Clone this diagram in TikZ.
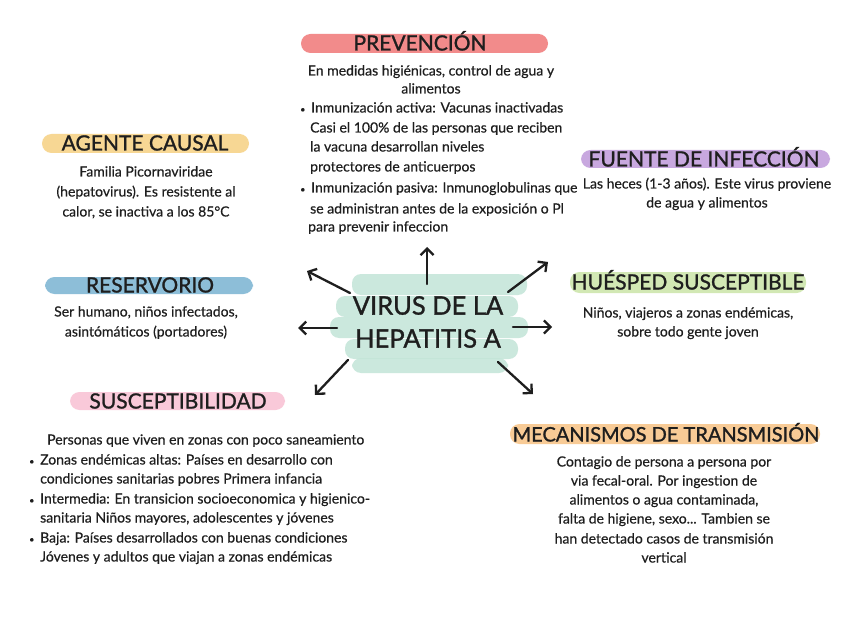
\documentclass[tikz,border=0pt]{standalone}
\usepackage{fontspec}
\setmainfont{Lato}[FakeBold=0.5]
\newfontfamily\hdrfont[FakeBold=1.2]{Lato}
\usetikzlibrary{arrows.meta}
\definecolor{cPrev}{HTML}{F28B8B}
\definecolor{cAgen}{HTML}{F7D794}
\definecolor{cFuen}{HTML}{C8A8DF}
\definecolor{cRes}{HTML}{8DBED8}
\definecolor{cHue}{HTML}{D2E8B4}
\definecolor{cSus}{HTML}{F9C9D9}
\definecolor{cMec}{HTML}{F8CB96}
\definecolor{cMint}{HTML}{C3E5D8}
\definecolor{ink}{HTML}{1E1E1E}
\newcommand{\bul}{\makebox[11pt][l]{\small•}}
\begin{document}
\begin{tikzpicture}[x=1pt,y=-1pt,
  hdr/.style={font=\hdrfont\fontsize{21}{21}\selectfont, text=ink, inner sep=0pt, text height=15pt, text depth=0pt},
  core/.style={font=\hdrfont\fontsize{25.5}{33}\selectfont, text=ink, inner sep=0pt, align=center},
  body/.style={font=\fontsize{14}{15}\selectfont, text=ink, inner sep=0pt, text height=10pt, text depth=3pt},
  bodyl/.style={body, anchor=west},
  pill/.style={rounded corners=9.5pt},
  stroke/.style={fill=cMint, opacity=.85, rounded corners=9pt},
  arr/.style={draw=ink, line width=2.3pt, line cap=round, -{Straight Barb[length=6.5pt,width=13pt]}}]
\fill[white] (0,0) rectangle (848,636);
\useasboundingbox (0,0) rectangle (848,636);

% highlight pills
\fill[cPrev,pill] (301,34) rectangle (548,53);
\fill[cAgen,pill] (42,134) rectangle (249,153);
\fill[cFuen,pill] (581,150) rectangle (830,168);
\fill[cRes,pill] (45,277) rectangle (253,294);
\fill[cHue,pill] (570,272) rectangle (806,293);
\fill[cSus,pill] (70,392) rectangle (285,410);
\fill[cMec,pill] (510,424) rectangle (820,444);

% centre brush strokes
\fill[stroke] (352,274) rectangle (527,295);
\fill[stroke] (336,296) rectangle (518,317);
\fill[stroke] (330,317) rectangle (528,338);
\fill[stroke] (345,339) rectangle (518,359);
\fill[stroke] (352,358) rectangle (508,373);

% centre
\node[core] (virus) at (428,322) {VIRUS DE LA\\HEPATITIS A};

% headers
\node[hdr] (hprev) at (420,43) {PREVENCIÓN};
\node[hdr] (hagen) at (145,143) {AGENTE CAUSAL};
\node[hdr] (hfuen) at (704,159) {FUENTE DE INFECCIÓN};
\node[hdr] (hres) at (150,285) {RESERVORIO};
\node[hdr] (hhue) at (688,282) {HUÉSPED SUSCEPTIBLE};
\node[hdr] (hsus) at (178,401) {SUSCEPTIBILIDAD};
\node[hdr, font=\hdrfont\fontsize{20}{20}\selectfont] (hmec) at (666,434) {MECANISMOS DE TRANSMISIÓN};

% arrows
\coordinate (aU0) at (427,284);  \coordinate (aU1) at (427,247);
\coordinate (aUL0) at (350,293); \coordinate (aUL1) at (307,271);
\coordinate (aUR0) at (508,292); \coordinate (aUR1) at (548,262);
\coordinate (aL0) at (337,328);  \coordinate (aL1) at (298,328);
\coordinate (aR0) at (513,327);  \coordinate (aR1) at (552,327);
\coordinate (aDL0) at (348,360); \coordinate (aDL1) at (315,395);
\coordinate (aDR0) at (498,362); \coordinate (aDR1) at (533,394);
\draw[arr] (aU0) -- (aU1);
\draw[arr] (aUL0) -- (aUL1);
\draw[arr] (aUR0) -- (aUR1);
\draw[arr] (aL0) -- (aL1);
\draw[arr] (aR0) -- (aR1);
\draw[arr] (aDL0) -- (aDL1);
\draw[arr] (aDR0) -- (aDR1);

% Prevencion body
\node[body] (p1) at (431,72) {En medidas higiénicas, control de agua y};
\node[body] (p2) at (431,90) {alimentos};
\node[bodyl] (p3) at (300,109) {\bul Inmunización activa: Vacunas inactivadas};
\node[bodyl] (p4) at (310,129) {Casi el 100\% de las personas que reciben};
\node[bodyl] (p5) at (310,148) {la vacuna desarrollan niveles};
\node[bodyl] (p6) at (310,168) {protectores de anticuerpos};
\node[bodyl] (p7) at (300,189) {\bul Inmunización pasiva: Inmunoglobulinas que};
\node[bodyl] (p8) at (310,210) {se administran antes de la exposición o Pl};
\node[bodyl] (p9) at (308,228) {para prevenir infeccion};

% Agente causal body
\node[body] (ag1) at (146,173) {Familia Picornaviridae};
\node[body] (ag2) at (146,193) {(hepatovirus). Es resistente al};
\node[body] (ag3) at (146,213) {calor, se inactiva a los 85°C};

% Fuente body
\node[body] (f1) at (707,185) {Las heces (1-3 años). Este virus proviene};
\node[body] (f2) at (707,204) {de agua y alimentos};

% Reservorio body
\node[body] (r1) at (146,313) {Ser humano, niños infectados,};
\node[body] (r2) at (146,333) {asintómáticos (portadores)};

% Huesped body
\node[body] (hu1) at (688,314) {Niños, viajeros a zonas endémicas,};
\node[body] (hu2) at (688,333) {sobre todo gente joven};

% Susceptibilidad body
\node[bodyl] (s1) at (47,441) {Personas que viven en zonas con poco saneamiento};
\node[bodyl] (s2) at (29,461) {\bul Zonas endémicas altas: Países en desarrollo con};
\node[bodyl] (s3) at (40,480) {condiciones sanitarias pobres Primera infancia};
\node[bodyl] (s4) at (29,500) {\bul Intermedia: En transicion socioeconomica y higienico-};
\node[bodyl] (s5) at (40,519) {sanitaria Niños mayores, adolescentes y jóvenes};
\node[bodyl] (s6) at (29,539) {\bul Baja: Países desarrollados con buenas condiciones};
\node[bodyl] (s7) at (40,558) {Jóvenes y adultos que viajan a zonas endémicas};

% Mecanismos body
\node[body] (m1) at (664,463) {Contagio de persona a persona por};
\node[body] (m2) at (664,482) {via fecal-oral. Por ingestion de};
\node[body] (m3) at (664,501) {alimentos o agua contaminada,};
\node[body] (m4) at (664,520) {falta de higiene, sexo... Tambien se};
\node[body] (m5) at (664,540) {han detectado casos de transmisión};
\node[body] (m6) at (664,559) {vertical};
\end{tikzpicture}
\end{document}
